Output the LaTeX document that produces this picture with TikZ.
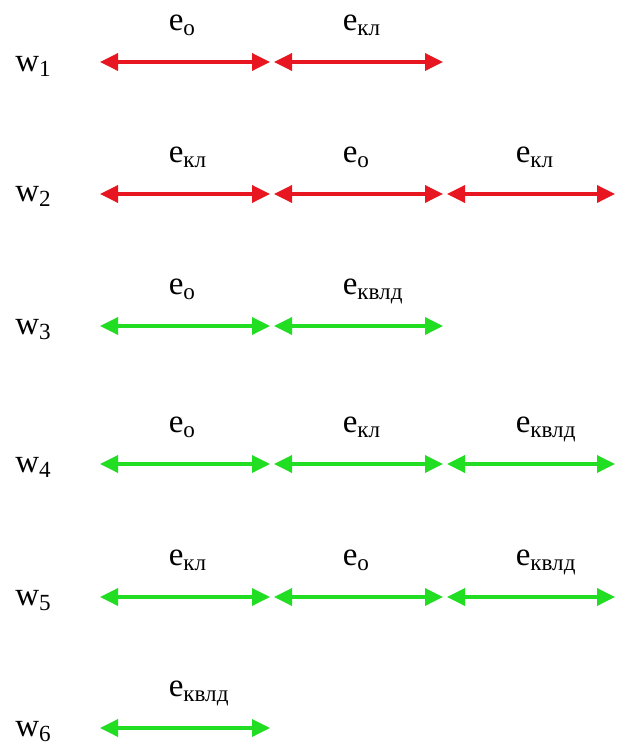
\documentclass[tikz,border=0pt]{standalone}
\usepackage{fontspec}
\setmainfont{Liberation Serif}
\usetikzlibrary{arrows.meta}

\definecolor{segred}{RGB}{232,22,32}
\definecolor{seggreen}{RGB}{34,222,34}

\begin{document}
\begin{tikzpicture}[
    x=0.5pt, y=-0.5pt,
    every node/.style={font=\fontsize{16.5}{20}\selectfont, inner sep=0pt},
    seg/.style={{Triangle[length=9pt, width=8.5pt]}-{Triangle[length=9pt, width=8.5pt]}, line width=1.75pt},
    redseg/.style={seg, draw=segred},
    greenseg/.style={seg, draw=seggreen},
    lab/.style={pos=0, anchor=base west, xshift=33.5pt, yshift=16pt},
    rowlab/.style={anchor=mid west}
    ]

    \useasboundingbox (0,0) rectangle (640,750);

    % end points of the three segments in every row
    \foreach \r/\y in {1/62, 2/194, 3/326, 4/464, 5/597, 6/728} {
        \coordinate (r\r a) at (100,\y);
        \coordinate (r\r b) at (270,\y);
        \coordinate (r\r c) at (274,\y);
        \coordinate (r\r d) at (443,\y);
        \coordinate (r\r e) at (447,\y);
        \coordinate (r\r f) at (615,\y);
    }

    \node[rowlab] (w1) at (15,67) {w\textsubscript{1}};
    \node[rowlab] (w2) at (15,197) {w\textsubscript{2}};
    \node[rowlab] (w3) at (15,330) {w\textsubscript{3}};
    \node[rowlab] (w4) at (15,468) {w\textsubscript{4}};
    \node[rowlab] (w5) at (15,601) {w\textsubscript{5}};
    \node[rowlab] (w6) at (15,732) {w\textsubscript{6}};

    % w1
    \draw[redseg] (r1a) -- (r1b) node[lab] (l11) {e\textsubscript{о}};
    \draw[redseg] (r1c) -- (r1d) node[lab] (l12) {e\textsubscript{кл}};

    % w2
    \draw[redseg] (r2a) -- (r2b) node[lab] (l21) {e\textsubscript{кл}};
    \draw[redseg] (r2c) -- (r2d) node[lab] (l22) {e\textsubscript{о}};
    \draw[redseg] (r2e) -- (r2f) node[lab] (l23) {e\textsubscript{кл}};

    % w3
    \draw[greenseg] (r3a) -- (r3b) node[lab] (l31) {e\textsubscript{о}};
    \draw[greenseg] (r3c) -- (r3d) node[lab] (l32) {e\textsubscript{квлд}};

    % w4
    \draw[greenseg] (r4a) -- (r4b) node[lab] (l41) {e\textsubscript{о}};
    \draw[greenseg] (r4c) -- (r4d) node[lab] (l42) {e\textsubscript{кл}};
    \draw[greenseg] (r4e) -- (r4f) node[lab] (l43) {e\textsubscript{квлд}};

    % w5
    \draw[greenseg] (r5a) -- (r5b) node[lab] (l51) {e\textsubscript{кл}};
    \draw[greenseg] (r5c) -- (r5d) node[lab] (l52) {e\textsubscript{о}};
    \draw[greenseg] (r5e) -- (r5f) node[lab] (l53) {e\textsubscript{квлд}};

    % w6
    \draw[greenseg] (r6a) -- (r6b) node[lab] (l61) {e\textsubscript{квлд}};

\end{tikzpicture}
\end{document}
